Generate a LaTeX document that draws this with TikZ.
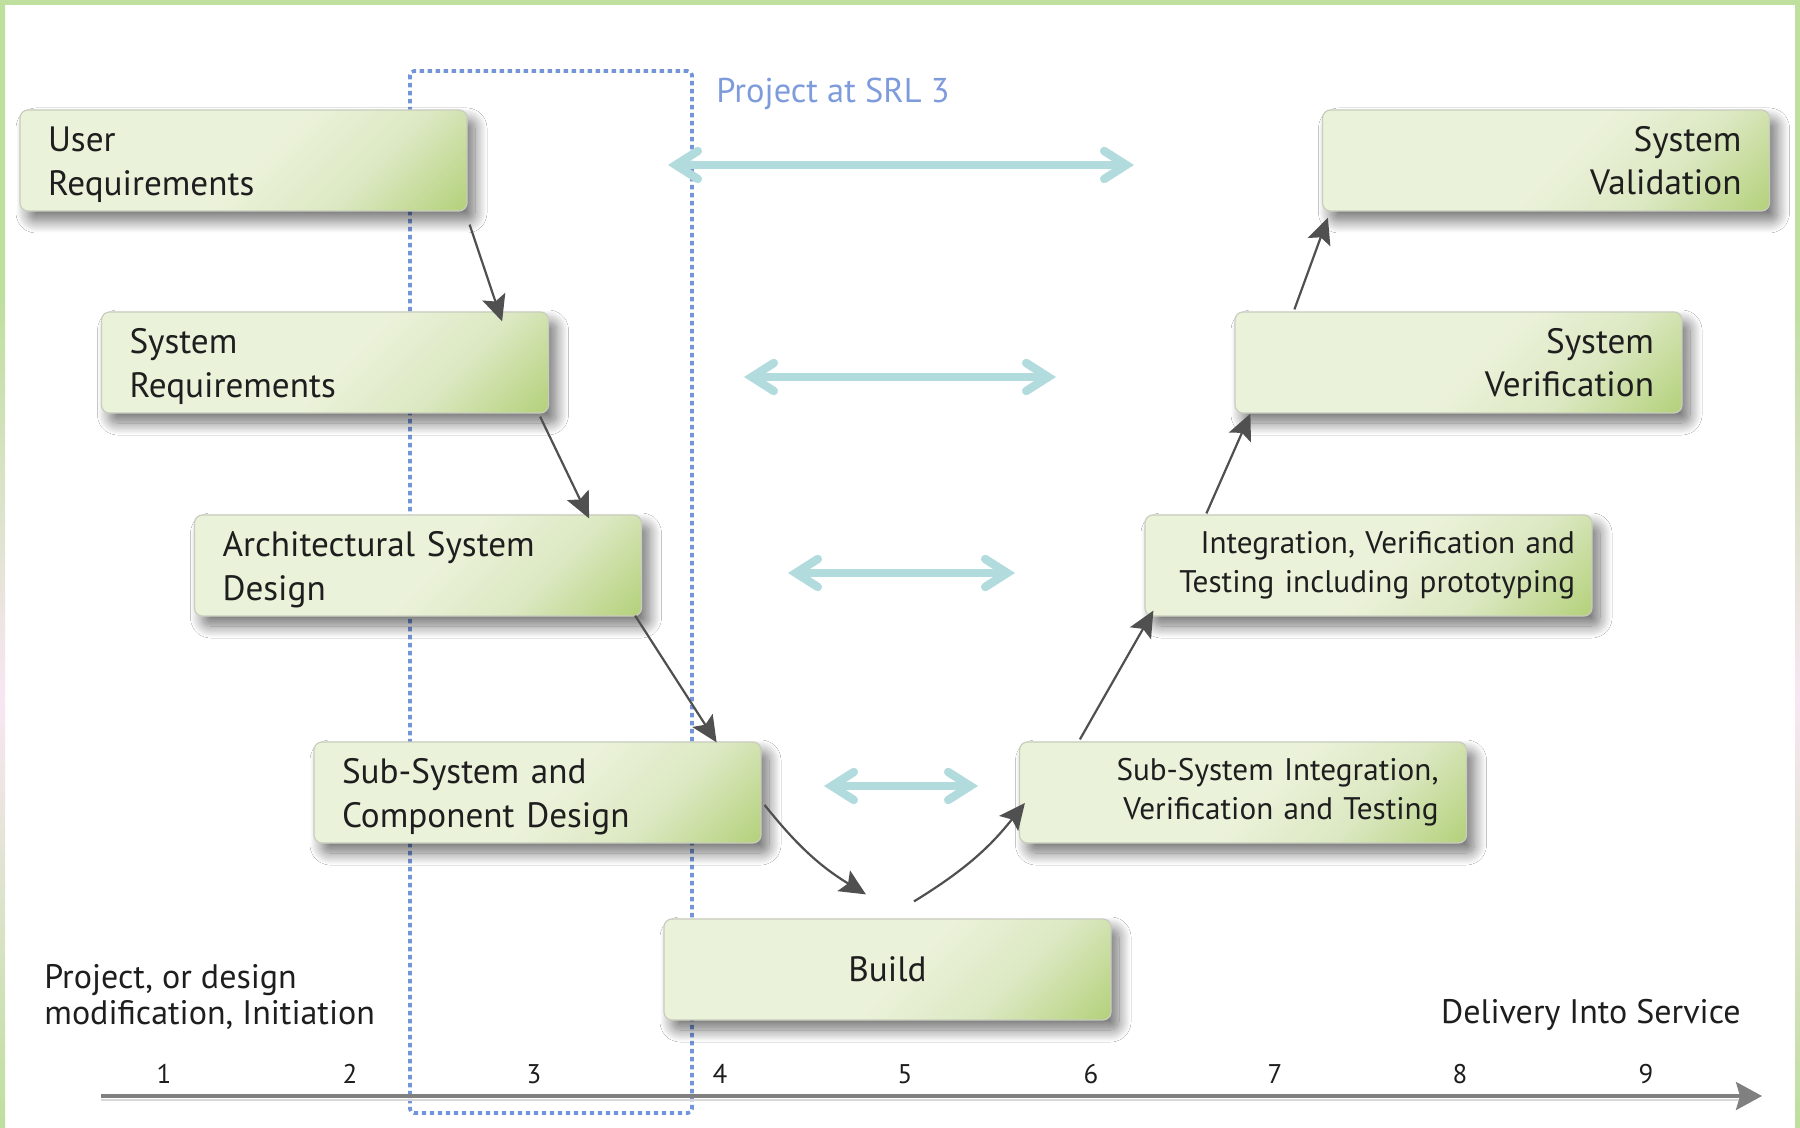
\documentclass[tikz,border=0pt]{standalone}
\usepackage{fontspec}
\setmainfont{PT Sans}
\usetikzlibrary{arrows.meta,shadows.blur}
\definecolor{bxL}{HTML}{EBF2DA}
\definecolor{bxM}{HTML}{DCE8C2}
\definecolor{bxG}{HTML}{B2D078}
\definecolor{bxB}{HTML}{C8CDBE}
\definecolor{tealA}{HTML}{B2DBDD}
\definecolor{dotB}{HTML}{7394D8}
\definecolor{srlT}{HTML}{7E9CDC}
\definecolor{conG}{HTML}{505050}
\definecolor{axG}{HTML}{808080}
\definecolor{frG}{HTML}{BEDF9E}
\definecolor{frP}{HTML}{F8E6F3}
\definecolor{txt}{HTML}{1E1E1E}
\pgfdeclarehorizontalshading{boxgrad}{100bp}{color(0bp)=(bxL); color(52bp)=(bxL); color(68bp)=(bxM); color(86bp)=(bxG); color(100bp)=(bxG)}
\pgfdeclareverticalshading{frameshade}{100bp}{color(0bp)=(frG); color(25bp)=(frG); color(44bp)=(frP); color(62bp)=(frG); color(100bp)=(frG)}
\begin{document}
\begin{tikzpicture}[x=0.5pt,y=-0.5pt,
  vbox/.style={rounded corners=4pt, draw=bxB, line width=0.6pt, shading=boxgrad, shading angle=-45,
    minimum width=223.5pt, minimum height=50.5pt, inner ysep=0pt, text=txt,
    font=\fontsize{17.6}{21.8}\selectfont,
    blur shadow={shadow xshift=4pt, shadow yshift=-5pt, shadow blur radius=6pt, shadow blur steps=16, shadow opacity=55}},
  lbox/.style={vbox, align=left, text width=195.5pt, inner xsep=14pt, execute at begin node={\rule{0pt}{16.8pt}}},
  rbox/.style={vbox, align=right, text width=195.5pt, inner xsep=14pt},
  cbox/.style={vbox, align=center, text width=195.5pt, inner xsep=14pt},
  smalltext/.style={font=\fontsize{15.6}{19.5}\selectfont},
  con/.style={draw=conG, line width=1.1pt, -{Stealth[length=13pt,width=12pt,inset=2.5pt]}},
  tarr/.style={draw=tealA, line width=4.2pt, line cap=round,
    {Straight Barb[length=11pt,width=14pt,line cap=round]}-{Straight Barb[length=11pt,width=14pt,line cap=round]}},
  axisln/.style={draw=axG, line width=1.7pt, -{Stealth[length=13pt,width=14pt,inset=2pt]}},
  num/.style={text=txt, font=\fontsize{13.5}{15}\selectfont, inner sep=0pt},
  note/.style={text=txt, font=\fontsize{17}{18}\selectfont, inner sep=0pt}
]
\useasboundingbox (0,0) rectangle (1800,1128);
\fill[white] (0,0) rectangle (1800,1128);
% frame
\fill[frG] (0,0) rectangle (1800,5);
\shade[shading=frameshade] (0,0) rectangle (5,1128);
\shade[shading=frameshade] (1795,0) rectangle (1800,1128);

% SRL 3 dotted box
\node[draw=dotB, line width=1.8pt, dash pattern=on 2.2pt off 1.8pt, rounded corners=2pt,
  minimum width=141pt, minimum height=521pt, inner sep=0pt] (srl) at (551,592) {};
\node[anchor=west, text=srlT, font=\fontsize{17.2}{20}\selectfont, inner sep=0pt] (srllab) at (716,94) {Project at SRL 3};

% boxes
\node[lbox] (ur) at (243.5,160.5) {User\\Requirements};
\node[lbox] (sr) at (325,362.5) {System\\Requirements};
\node[lbox] (asd) at (418,565.5) {Architectural System\\Design};
\node[lbox] (sscd) at (537.5,792.5) {Sub-System and\\Component Design};
\node[cbox] (build) at (887.5,969.5) {Build};
\node[rbox, smalltext] (ssi) at (1243,792.5) {Sub-System Integration,\\Verification and Testing};
\node[rbox, smalltext, text width=206.5pt, inner xsep=8.5pt] (ivt) at (1368.5,565.5) {Integration, Verification and\\Testing including prototyping};
\node[rbox] (sv) at (1458.5,362.5) {System\\Verification};
\node[rbox] (sval) at (1546,160.5) {System\\Validation};

% teal double arrows
\coordinate (t1a) at (668,165);  \coordinate (t1b) at (1134,165);
\coordinate (t2a) at (744,377);  \coordinate (t2b) at (1056,377);
\coordinate (t3a) at (788,573);  \coordinate (t3b) at (1015,573);
\coordinate (t4a) at (824,786);  \coordinate (t4b) at (978,786);
\draw[tarr] (t1a) -- (t1b);
\draw[tarr] (t2a) -- (t2b);
\draw[tarr] (t3a) -- (t3b);
\draw[tarr] (t4a) -- (t4b);

% connectors
\draw[con] ([shift={(2,13)}]ur.south east) -- ([shift={(-47,10)}]sr.north east);
\draw[con] ([shift={(-9,3)}]sr.south east) -- ([shift={(-53,4)}]asd.north east);
\draw[con] ([shift={(-7,-1)}]asd.south east) -- ([shift={(-45,1)}]sscd.north east);
\draw[con] ([shift={(3,12.5)}]sscd.east) to[bend right=10] ([shift={(-21.5,-24)}]build.north);
\draw[con] ([shift={(26.5,-17)}]build.north) to[bend right=10] ([shift={(6,10.5)}]ssi.west);
\draw[con] ([shift={(61,-2)}]ssi.north west) -- ([shift={(9,-6)}]ivt.south west);
\draw[con] ([shift={(62,-1)}]ivt.north west) -- ([shift={(16,0)}]sv.south west);
\draw[con] ([shift={(60,-2)}]sv.north west) -- ([shift={(6,6)}]sval.south west);

% axis
\coordinate (axs) at (101,1096);
\coordinate (axe) at (1762,1096);
\draw[gray!30, line width=1.3pt] (101,1100) -- (1740,1100);
\draw[axisln] (axs) -- (axe);
\foreach \n/\x in {1/164,2/350,3/534,4/720,5/905,6/1091,7/1275,8/1460,9/1646}
  \node[num] (n\n) at (\x,1074) {\n};

\node[note, anchor=west, align=left] (start) at (44,997) {Project, or design\\modification, Initiation};
\node[note, anchor=east] (deliv) at (1741,1015) {Delivery Into Service};
\end{tikzpicture}
\end{document}
